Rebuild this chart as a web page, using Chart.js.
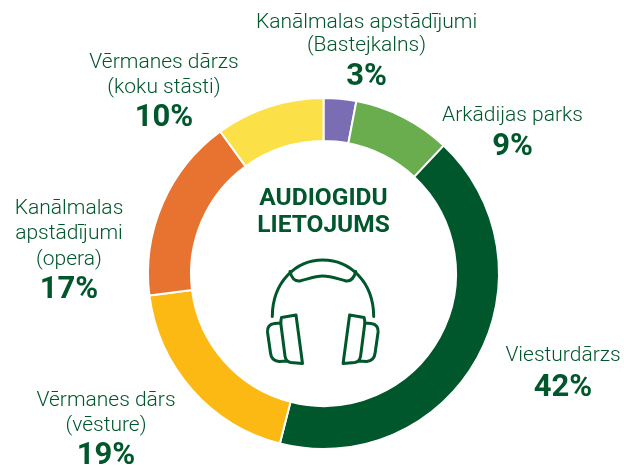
<!DOCTYPE html>
<html>
<head>
<meta charset="utf-8">
<style>
html,body{margin:0;padding:0;background:#fff}
#wrap{position:relative;width:624px;height:465px}
canvas{display:block}
</style>
<script src="https://cdn.jsdelivr.net/npm/chart.js@4"></script>
</head>
<body>
<div id="wrap"><canvas id="c" width="624" height="465"></canvas></div>
<script>
const categories = [
  ["Kanālmalas apstādījumi", "(Bastejkalns)"],
  ["Arkādijas parks"],
  ["Viesturdārzs"],
  ["Vērmanes dārs", "(vēsture)"],
  ["Kanālmalas", "apstādījumi", "(opera)"],
  ["Vērmanes dārzs", "(koku stāsti)"]
];
const values = [3, 9, 42, 19, 17, 10];
const colors = ["#7A6DB4", "#6AAD4E", "#00572C", "#FDB913", "#E87331", "#FBE147"];
const centerTitle = ["AUDIOGIDU", "LIETOJUMS"];

// label placement: centre x, then baseline of each text line, last one the percentage
const placement = [
  [366.5, [28, 51, 85]],
  [512.5, [121, 155]],
  [563, [361, 396]],
  [106, [406, 431, 464]],
  [69,  [214, 239, 265, 298]],
  [164, [68, 93, 126]]
];
const GREEN = "#00572C";

const annotations = {
  id: "annotations",
  afterDraw(chart) {
    const ctx = chart.ctx;
    ctx.save();
    ctx.textAlign = "center";
    ctx.textBaseline = "alphabetic";
    categories.forEach((lines, i) => {
      const [x, ys] = placement[i];
      ctx.fillStyle = GREEN;
      ctx.font = "300 21px Roboto";
      lines.forEach((t, j) => ctx.fillText(t, x, ys[j]));
      ctx.font = "700 31px Roboto";
      ctx.fillText(values[i] + "%", x, ys[lines.length]);
    });
    ctx.font = "700 24.5px Roboto";
    ctx.fillText(centerTitle[0], 323.5, 205);
    ctx.fillText(centerTitle[1], 323.5, 232);

    // headphones icon
    ctx.strokeStyle = GREEN;
    ctx.lineWidth = 3;
    ctx.lineCap = "round";
    ctx.lineJoin = "round";
    const axis = 322.8;
    const band = new Path2D("M272.3 316.5 C272.5 282 296 260 322.8 260 C350 260 373.5 282 373.7 316.5");
    const pad = new Path2D("M290 271.5 C291.5 278 295 281.5 300 281 C308 279 315 276 322.8 276 C331 276 338 279 346 281 C351 281.5 354 278 355.8 271.5");
    ctx.stroke(band);
    ctx.stroke(pad);
    const cup = new Path2D("M281.5 317.5 L296 315 L302.5 363.5 L291 362.5 C287.5 362 285.5 359.5 285 356 L281 325 C280.5 321 281 319 281.5 317.5 Z M280.5 323 L274.5 323.5 C269.5 324 267 327.5 267.5 332 L270.5 353 C271 358 274.5 361 279 361.5 L287 361");
    ctx.stroke(cup);
    ctx.translate(axis * 2, 0);
    ctx.scale(-1, 1);
    ctx.stroke(cup);
    ctx.restore();
  }
};

new Chart(document.getElementById("c"), {
  type: "doughnut",
  data: {
    labels: categories.map(l => l.join(" ")),
    datasets: [{
      data: values,
      backgroundColor: colors,
      borderColor: "#ffffff",
      borderWidth: 2
    }]
  },
  options: {
    responsive: false,
    animation: false,
    cutout: "75.5%",
    layout: { padding: { left: 147, right: 124, top: 97, bottom: 15 } },
    plugins: { legend: { display: false }, tooltip: { enabled: false } }
  },
  plugins: [annotations]
});
</script>
</body>
</html>
